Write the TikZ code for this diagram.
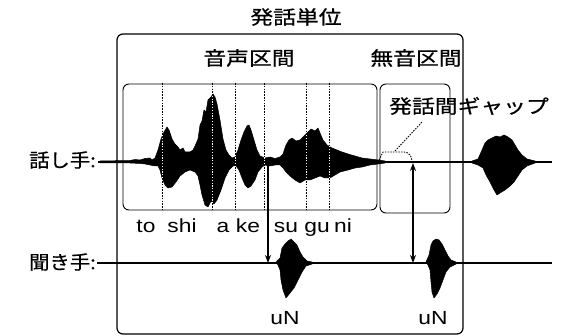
\documentclass[tikz,border=0pt]{standalone}
\usepackage{fontspec}
\setmainfont{Liberation Sans}
\newfontfamily\jp[FakeBold=0.6]{Noto Sans CJK JP}
\usetikzlibrary{arrows.meta}
\newcommand{\wide}[1]{\scalebox{1.2}[1]{#1}}
\newcommand{\wideb}[1]{\scalebox{1.07}[1]{#1}}
\tikzset{
  lbl/.style={font=\jp\fontsize{19}{19}\selectfont, inner sep=0pt},
  lat/.style={font=\fontsize{19}{19}\selectfont, inner sep=0pt, anchor=base},
  frame/.style={draw, line width=1.2pt, rounded corners=6pt},
  subframe/.style={draw, line width=0.9pt, rounded corners=6pt},
  axis/.style={line width=1.4pt},
  wave/.style={fill=black, draw=black, line width=0.5pt, line join=round},
  seg/.style={line width=0.9pt, dash pattern=on 1.6pt off 1.2pt},
  segbg/.style={white, line width=1.0pt},
  gap/.style={line width=0.9pt, dash pattern=on 1.5pt off 1.2pt},
  timing/.style={line width=2pt, -{Stealth[length=8pt,width=6pt]}},
  timing2/.style={line width=2pt, {Stealth[length=8pt,width=6pt]}-{Stealth[length=8pt,width=6pt]}}
}
\begin{document}
\begin{tikzpicture}[x=1pt,y=-1pt]
\useasboundingbox (0,0) rectangle (567,336);
\fill[white] (0,0) rectangle (567,336);

% boxes
\draw[frame] (117,34) rectangle (463,334);
\draw[subframe] (123,84) rectangle (377,210);
\draw[subframe] (380,84) rectangle (450,213);

% labels
\node[lbl] (title) at (296,17) {\wide{発話単位}};
\node[lbl] (voiced) at (249,58) {\wide{音声区間}};
\node[lbl] (silent) at (416,58) {\wide{無音区間}};
\node[lbl] (gaplbl) at (469,106) {\wide{発話間ギャップ}};
\node[lbl, anchor=east] (spk) at (96,160) {\wideb{話し手:}};
\node[lbl, anchor=east] (lis) at (96,262) {\wideb{聞き手:}};

% lines
\coordinate (s0) at (98,162);
\coordinate (s1) at (552,162);
\coordinate (l0) at (97,263);
\coordinate (l1) at (552,263);
\draw[axis] (s0) -- (s1);
\draw[axis] (l0) -- (l1);

% speaker waveform
\draw[wave] plot coordinates {
(100,161) (130,160.5) (135,159.5) (140,160) (145,158.5) (150,158) (152,160) (155,158) (158,150) (161,139) (164,132) (167,127) (169,130) (172,139) (175,144) (178,147) (180,150) (183,148) (185,152) (190,152) (193,150) (195,146) (198,139) (200,125) (202,121) (204,110) (206,112) (208,100) (211,97) (213,94) (215,97) (217,104) (220,120) (223,139) (226,150) (229,155) (232,158) (235,157) (238,150) (241,140) (244,132) (247,126) (249,125) (251,130) (254,140) (257,150) (260,156) (265,158) (270,157) (275,158.5) (280,157) (283,154) (286,145) (289,140) (292,138) (296,141) (300,140) (304,136) (308,132) (311,129) (315,131) (318,128) (320,133) (323,140) (327,145) (332,148) (337,150) (342,152) (348,154) (355,156) (362,158) (370,159) (378,160) (385,161)
(385,163) (378,164) (370,165) (362,167) (355,168) (348,170) (340,172) (335,175) (330,178) (325,178) (320,176) (315,178) (310,180) (305,180) (300,183) (295,180) (290,176) (286,172) (283,168) (280,165) (275,165) (270,166) (265,165) (262,167) (258,172) (255,180) (251,186) (248,188) (245,185) (242,178) (239,170) (236,166) (233,166) (229,170) (225,178) (221,190) (217,200) (214,204) (211,201) (208,207) (205,205) (202,195) (200,185) (198,176) (195,172) (190,170) (185,172) (180,176) (176,182) (172,187) (168,188) (165,185) (162,178) (160,170) (158,166) (155,166) (150,165) (145,164) (140,163.5) (130,163) (100,163)
} -- cycle;

\draw[wave] plot coordinates {
(472,161) (478,159) (482,150) (485,143) (488,140) (492,138) (496,136) (500,137) (504,135) (508,137) (512,140) (515,145) (518,150) (522,155) (527,159) (535,161)
(535,163) (527,166) (522,170) (518,176) (514,182) (510,186) (505,190) (500,193) (497,195) (494,190) (490,182) (486,175) (483,168) (478,165) (472,163)
} -- cycle;

% listener waveforms
\draw[wave] plot coordinates {
(276,262) (280,258) (282,248) (285,244) (288,241) (291,239) (294,242) (297,245) (300,252) (303,257) (307,261) (312,262)
(312,264) (306,266) (302,272) (298,280) (294,288) (290,293) (286,298) (283,290) (281,280) (280,270) (278,265)
} -- cycle;
\draw[wave] plot coordinates {
(426,262) (429,255) (431,245) (433,241) (436,239) (439,240) (442,244) (445,250) (448,256) (451,260) (456,262)
(456,264) (450,267) (446,272) (443,280) (440,288) (437,294) (434,298) (432,292) (431,282) (430,270) (428,265)
} -- cycle;

% segment boundaries
\foreach \x in {162,212,235,264,306,329} {
  \draw[segbg] (\x,83) -- (\x,210);
  \draw[seg] (\x,83) -- (\x,210);
}

% syllables
\node[lat] (to) at (146,233) {\wide{to}};
\node[lat] (shi) at (182,233) {\wide{shi}};
\node[lat] (a) at (223,233) {\wide{a}};
\node[lat] (ke) at (248,233) {\wide{ke}};
\node[lat] (su) at (286,233) {\wide{su}};
\node[lat] (gu) at (317,233) {\wide{gu}};
\node[lat] (ni) at (343,233) {\wide{ni}};

% gap bracket
\coordinate (g0) at (379,160);
\coordinate (g1) at (383,152);
\coordinate (g2) at (404,152);
\coordinate (g3) at (412,161);
\draw[gap] (g0) -- (g1) -- (g2) to[out=0,in=90] (g3);
\coordinate (gl0) at (395,151);
\coordinate (gl1) at (422,122);
\draw[gap] (gl0) -- (gl1);

% timing arrows
\coordinate (a1s) at (268,164);
\coordinate (a1e) at (268,263);
\draw[timing] (a1s) -- (a1e);
\coordinate (a2s) at (413,163);
\coordinate (a2e) at (413,263);
\draw[timing2] (a2s) -- (a2e);

% responses
\node[lat] (uN1) at (285,324) {\wide{uN}};
\node[lat] (uN2) at (433,324) {\wide{uN}};
\end{tikzpicture}
\end{document}
